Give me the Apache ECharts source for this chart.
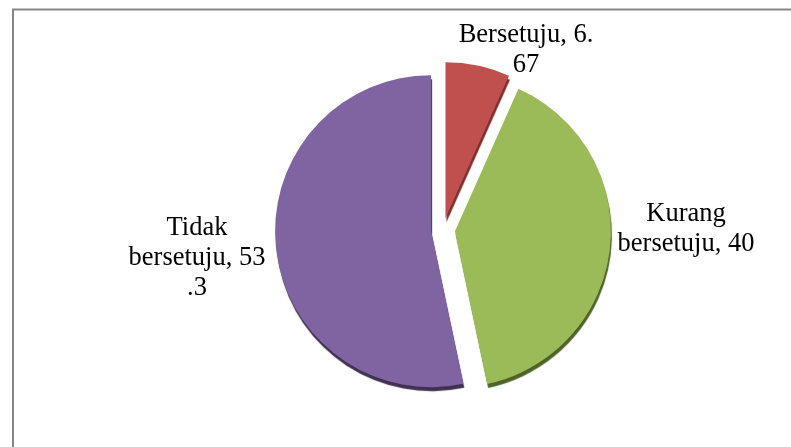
<!DOCTYPE html>
<html>
<head>
<meta charset="utf-8">
<script src="https://cdn.jsdelivr.net/npm/echarts@6/dist/echarts.min.js"></script>
<style>
html,body{margin:0;padding:0;background:#fff;}
#chart{width:791px;height:447px;}
</style>
</head>
<body>
<div id="chart"></div>
<script>
var categories = ["Bersetuju", "Kurang bersetuju", "Tidak bersetuju"];
var values = [6.67, 40, 53.3];
var labelTexts = ["Bersetuju, 6.\n67", "Kurang\nbersetuju, 40", "Tidak\nbersetuju, 53\n.3"];
var colors = ["#C0504D", "#9BBB59", "#8064A2"];
var sideColors = ["#7a2f2d", "#4f6228", "#3f3151"];

var labelAnchors = [[526, 50], [686, 229], [197, 258]];

var chart = echarts.init(document.getElementById('chart'), null, {renderer: 'canvas'});
var data = categories.map(function (c, i) {
  return {
    name: c,
    value: values[i],
    selected: true,
    itemStyle: {
      color: colors[i],
      shadowColor: sideColors[i],
      shadowOffsetY: 4,
      shadowOffsetX: 1,
      shadowBlur: 1
    }
  };
});
var graphics = [{
  type: 'rect',
  shape: {x: 13, y: 9.5, width: 800, height: 460},
  style: {fill: 'none', stroke: '#868686', lineWidth: 2},
  silent: true
}];
labelTexts.forEach(function (t, i) {
  graphics.push({
    type: 'text',
    x: labelAnchors[i][0],
    y: labelAnchors[i][1],
    silent: true,
    style: {
      text: t,
      fill: '#000',
      font: '26.5px "Liberation Serif"',
      lineHeight: 30,
      align: 'center',
      verticalAlign: 'middle'
    }
  });
});
chart.setOption({
  animation: false,
  backgroundColor: '#ffffff',
  graphic: graphics,
  series: [{
    type: 'pie',
    center: [443, 230],
    radius: 156,
    startAngle: 90,
    clockwise: true,
    selectedMode: 'multiple',
    selectedOffset: 12,
    emphasis: {disabled: true},
    data: data,
    label: {show: false},
    labelLine: {show: false}
  }]
});
</script>
</body>
</html>
